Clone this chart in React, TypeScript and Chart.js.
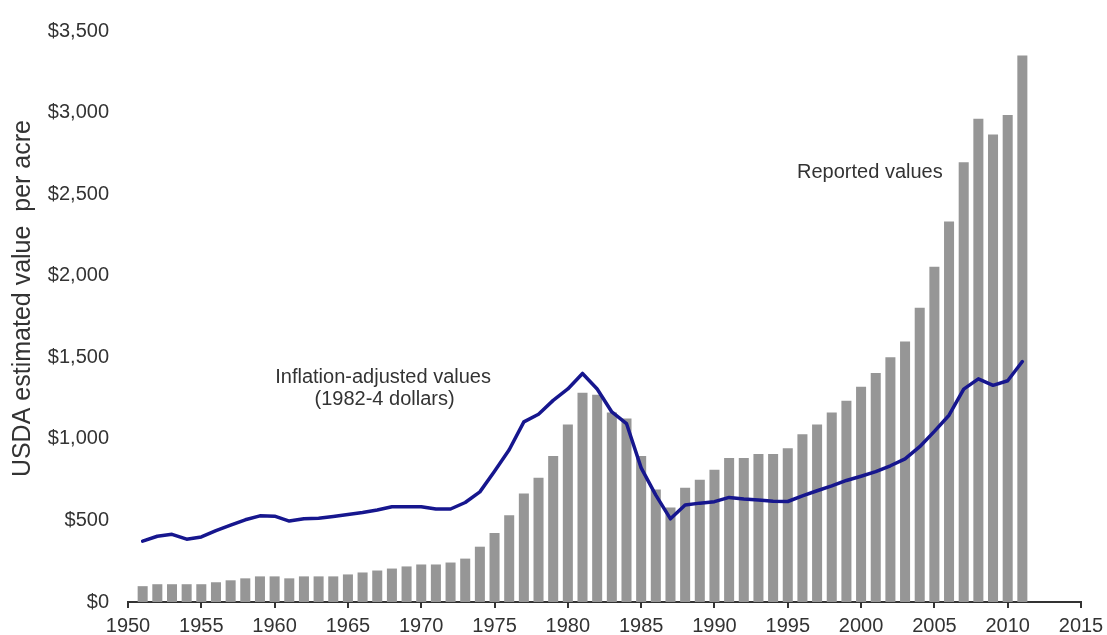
import React, { useEffect, useRef } from "react";
import { Chart, registerables } from "chart.js";

Chart.register(...registerables);

const years = [
  1951, 1952, 1953, 1954, 1955, 1956, 1957, 1958, 1959, 1960,
  1961, 1962, 1963, 1964, 1965, 1966, 1967, 1968, 1969, 1970,
  1971, 1972, 1973, 1974, 1975, 1976, 1977, 1978, 1979, 1980,
  1981, 1982, 1983, 1984, 1985, 1986, 1987, 1988, 1989, 1990,
  1991, 1992, 1993, 1994, 1995, 1996, 1997, 1998, 1999, 2000,
  2001, 2002, 2003, 2004, 2005, 2006, 2007, 2008, 2009, 2010,
  2011,
];

const reportedValues = [
  97, 109, 109, 109, 109, 121, 133, 145, 157, 157,
  145, 157, 157, 157, 169, 181, 193, 205, 218, 230,
  230, 242, 266, 339, 423, 532, 665, 762, 895, 1088,
  1282, 1270, 1161, 1125, 895, 689, 580, 701, 750, 810,
  883, 883, 907, 907, 943, 1028, 1088, 1161, 1234, 1319,
  1403, 1500, 1596, 1803, 2055, 2332, 2696, 2962, 2866, 2985,
  3350,
];

const inflationAdjustedValues = [
  373, 403, 415, 385, 399, 437, 471, 504, 528, 526,
  496, 510, 514, 524, 536, 548, 564, 584, 584, 584,
  570, 570, 610, 675, 802, 933, 1104, 1151, 1236, 1306,
  1401, 1306, 1165, 1094, 822, 655, 510, 594, 606, 615,
  641, 631, 625, 617, 616, 651, 682, 712, 745, 771,
  799, 835, 877, 952, 1046, 1145, 1305, 1368, 1328, 1356,
  1474,
];

const xMin = 1950;
const xMax = 2015;
const yMin = 0;
const yMax = 3500;

const yAxisTitle = "USDA estimated value  per acre";
const annotationTexts = ["Reported values", "Inflation-adjusted values", "(1982-4 dollars)"];
const annotationYears = [2000.6, 1967.4, 1967.5];
const annotationValues = [2601, 1342, 1209];

const FONT = '"Liberation Sans", Arial, sans-serif';
const TEXT_COLOR = "#333333";

const annotationPlugin = {
  id: "textAnnotations",
  afterDatasetsDraw(chart: any) {
    const { ctx, scales } = chart;
    const x = scales.x;
    const y = scales.y;
    ctx.save();
    ctx.font = `20px ${FONT}`;
    ctx.fillStyle = TEXT_COLOR;
    ctx.textAlign = "center";
    ctx.textBaseline = "alphabetic";
    annotationTexts.forEach((t, i) => {
      ctx.fillText(t, x.getPixelForValue(annotationYears[i]), y.getPixelForValue(annotationValues[i]));
    });
    ctx.restore();

    // rotated y-axis title, centred slightly above the plot middle as in the reference
    const titleCenterY = y.getPixelForValue(1860);
    ctx.save();
    ctx.font = `25px ${FONT}`;
    ctx.fillStyle = TEXT_COLOR;
    ctx.textAlign = "center";
    ctx.textBaseline = "middle";
    ctx.translate(23, titleCenterY);
    ctx.rotate(-Math.PI / 2);
    ctx.fillText(yAxisTitle, 0, 0);
    ctx.restore();
  },
};

export default function App() {
  const ref = useRef<HTMLCanvasElement>(null);

  useEffect(() => {
    document.body.style.margin = "0";
    const canvas = ref.current;
    if (!canvas) return;
    const chart = new Chart(canvas, {
      type: "bar",
      data: {
        datasets: [
          {
            type: "line",
            label: "Inflation-adjusted values",
            data: years.map((yr, i) => ({ x: yr, y: inflationAdjustedValues[i] })),
            borderColor: "#16168e",
            borderWidth: 3.5,
            pointRadius: 0,
            tension: 0,
            fill: false,
            borderJoinStyle: "round",
            borderCapStyle: "round",
            order: 0,
          } as any,
          {
            type: "bar",
            label: "Reported values",
            data: years.map((yr, i) => ({ x: yr, y: reportedValues[i] })),
            backgroundColor: "#969696",
            borderWidth: 0,
            barPercentage: 0.9,
            categoryPercentage: 0.76,
            order: 1,
          } as any,
        ],
      },
      options: {
        animation: false,
        responsive: true,
        maintainAspectRatio: false,
        layout: { padding: { left: 0, right: 26, top: 23, bottom: 0 } },
        plugins: {
          legend: { display: false },
          tooltip: { enabled: false },
        },
        scales: {
          x: {
            type: "linear",
            min: xMin,
            max: xMax,
            offset: false,
            grid: {
              display: true,
              offset: false,
              drawOnChartArea: false,
              drawTicks: true,
              tickLength: 6,
              color: "#333333",
              lineWidth: 2,
            },
            border: { display: true, color: "#333333", width: 2 },
            ticks: {
              stepSize: 5,
              autoSkip: false,
              maxRotation: 0,
              padding: 3,
              color: TEXT_COLOR,
              font: { family: FONT, size: 20, lineHeight: 1.5 },
              callback: (v: any) => String(v),
            },
            afterFit: (scale: any) => {
              scale.height = 33;
            },
          },
          y: {
            type: "linear",
            min: yMin,
            max: yMax,
            grid: { display: false, drawTicks: false },
            border: { display: false },
            ticks: {
              stepSize: 500,
              padding: 19,
              color: TEXT_COLOR,
              font: { family: FONT, size: 20 },
              callback: (v: any) => "$" + Number(v).toLocaleString("en-US"),
            },
            title: { display: false },
            afterFit: (scale: any) => {
              scale.width = 128;
            },
          },
        },
      },
      plugins: [annotationPlugin],
    });
    return () => chart.destroy();
  }, []);

  return (
    <div style={{ width: 1107, height: 635, position: "relative" }}>
      <canvas ref={ref} />
    </div>
  );
}
